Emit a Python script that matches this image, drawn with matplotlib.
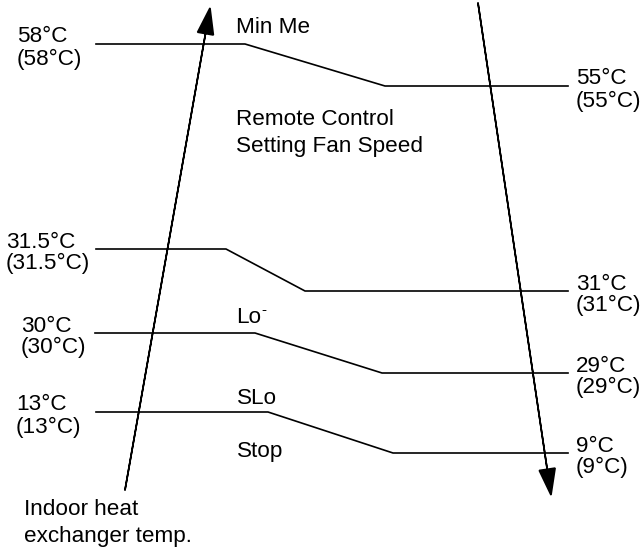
import matplotlib.pyplot as plt

plt.rcParams['font.family'] = ['Liberation Sans', 'DejaVu Sans']

# temperature thresholds (left = rising, right = falling)
left_temps = ['58°C', '31.5°C', '30°C', '13°C']
right_temps = ['55°C', '31°C', '29°C', '9°C']
fan_modes = ['Min Me', 'Lo', 'SLo', 'Stop']

# layout of the schematic in pixel units
line_y_left = [44, 249, 333, 412]
line_y_right = [86, 291, 373, 453]
line_x_start = [96, 96, 95, 96]
line_x_break = [245, 226, 255, 268]
line_x_end_slope = [385, 305, 382, 393]
line_x_end = 568
left_label_x = [17, 6, 21, 16]
mode_baseline = [33, 323, 404, 457]

fig = plt.figure(figsize=(6.43, 5.49), dpi=100)
ax = fig.add_axes([0, 0, 1, 1])
ax.set_xlim(0, 643)
ax.set_ylim(549, 0)
ax.axis('off')

fs = 16.2
for i in range(len(left_temps)):
    xs = [line_x_start[i], line_x_break[i], line_x_end_slope[i], line_x_end]
    ys = [line_y_left[i], line_y_left[i], line_y_right[i], line_y_right[i]]
    ax.plot(xs, ys, color='black', lw=1.2)
    # two-line labels: value and value in brackets
    ax.text(left_label_x[i], line_y_left[i] - 1.5, left_temps[i], fontsize=fs, va='baseline')
    ax.text(left_label_x[i], line_y_left[i] + 20.5, f'({left_temps[i]})', fontsize=fs, va='baseline')
    ax.text(576, line_y_right[i] - 1.5, right_temps[i], fontsize=fs, va='baseline')
    ax.text(576, line_y_right[i] + 20.5, f'({right_temps[i]})', fontsize=fs, va='baseline')
    ax.text(236.5, mode_baseline[i], fan_modes[i], fontsize=fs, va='baseline')

# superscript minus of "Lo-"
ax.text(261, 314.5, '-', fontsize=11, va='baseline')

ax.text(236.5, 125, 'Remote Control', fontsize=fs, va='baseline')
ax.text(236.5, 152, 'Setting Fan Speed', fontsize=fs, va='baseline')
ax.text(24, 515, 'Indoor heat', fontsize=fs, va='baseline')
ax.text(24, 542, 'exchanger temp.', fontsize=fs, va='baseline')

# rising and falling arrows
ax.arrow(125, 490, 85, -482, color='black', lw=1.2, head_width=16,
         head_length=26, length_includes_head=True, overhang=0)
ax.arrow(478, 3, 73, 492, color='black', lw=1.2, head_width=16,
         head_length=26, length_includes_head=True, overhang=0)

fig.savefig('out.png', dpi=100)
